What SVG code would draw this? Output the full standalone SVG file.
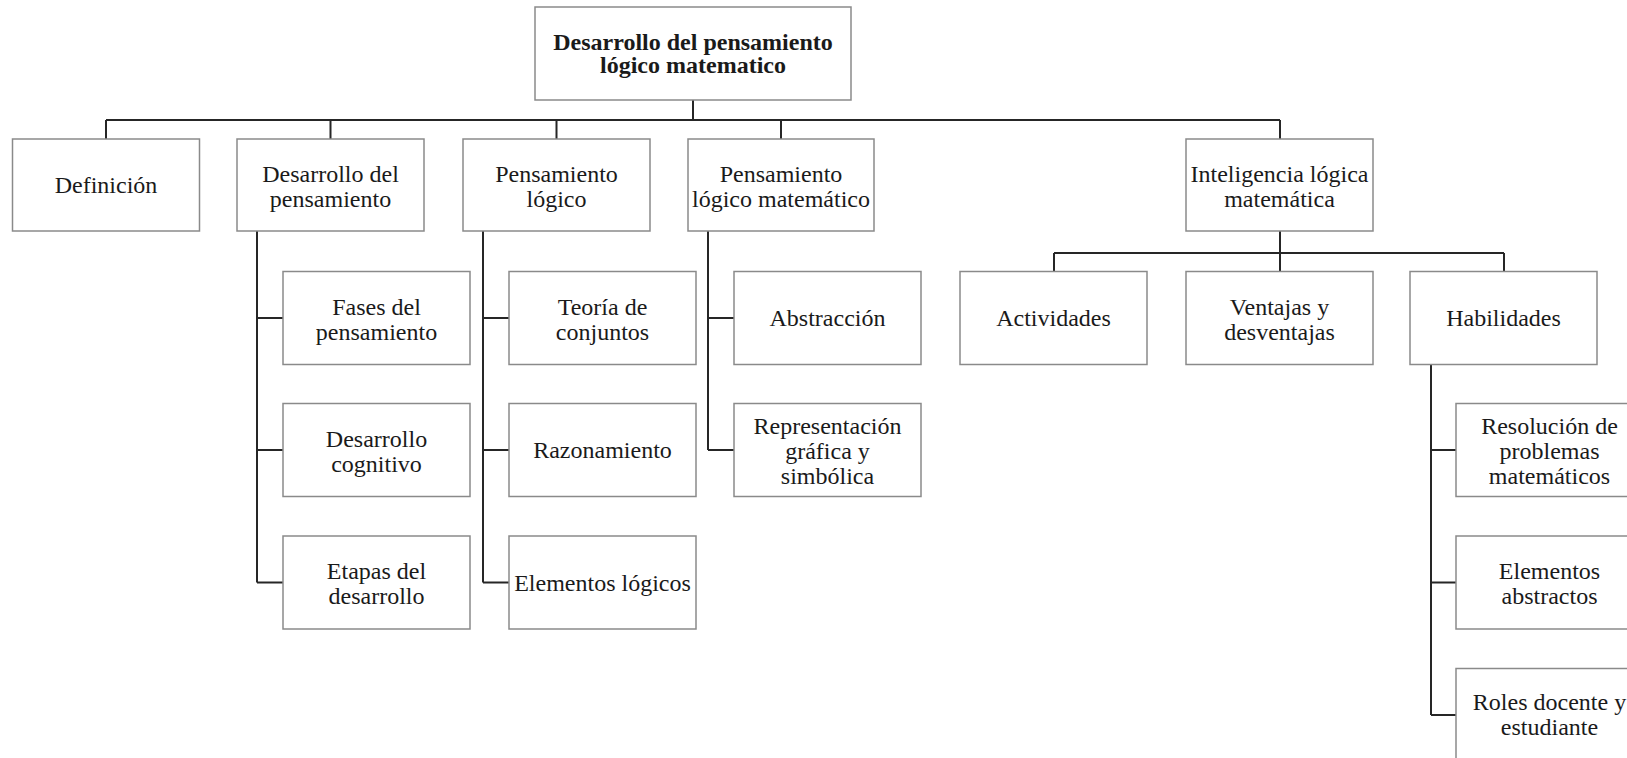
<svg xmlns="http://www.w3.org/2000/svg" width="1627" height="758" viewBox="0 0 1627 758">
<style>
.box{fill:#ffffff;stroke:#8a8a8a;stroke-width:1.5}
.t{font-family:"Liberation Serif","Times New Roman",serif;font-size:24px;fill:#1a1a1a;text-anchor:middle}
.b{font-weight:bold}
.c{fill:none;stroke:#262626;stroke-width:2}
</style>
<rect width="1627" height="758" fill="#ffffff"/>
<g id="connectors">
<path class="c" d="M693,100 V120 M106,120 H1280 M106,120 V139 M330.5,120 V139 M556.5,120 V139 M781,120 V139 M1280,120 V139"/>
<path class="c" d="M257,231 V582.5 M257,318 H283 M257,450 H283 M257,582.5 H283"/>
<path class="c" d="M483,231 V582.5 M483,318 H509 M483,450 H509 M483,582.5 H509"/>
<path class="c" d="M708,231 V450 M708,318 H734 M708,450 H734"/>
<path class="c" d="M1280,231 V253 M1054,253 H1504 M1054,253 V271.5 M1280,253 V271.5 M1504,253 V271.5"/>
<path class="c" d="M1431,364.5 V715 M1431,450 H1456 M1431,582.5 H1456 M1431,715 H1456"/>
</g>
<g id="root"><rect class="box" x="535" y="7" width="316" height="93"/><text class="t b" x="693" y="49.5">Desarrollo del pensamiento</text><text class="t b" x="693" y="73">lógico matematico</text></g>
<g id="definicion"><rect class="box" x="12.5" y="139" width="187" height="92"/><text class="t" x="106" y="193">Definición</text></g>
<g id="desarrollo-pensamiento"><rect class="box" x="237" y="139" width="187" height="92"/><text class="t" x="330.5" y="181.5">Desarrollo del</text><text class="t" x="330.5" y="206.5">pensamiento</text></g>
<g id="pensamiento-logico"><rect class="box" x="463" y="139" width="187" height="92"/><text class="t" x="556.5" y="181.5">Pensamiento</text><text class="t" x="556.5" y="206.5">lógico</text></g>
<g id="pensamiento-logico-matematico"><rect class="box" x="688" y="139" width="186" height="92"/><text class="t" x="781" y="181.5">Pensamiento</text><text class="t" x="781" y="206.5">lógico matemático</text></g>
<g id="inteligencia"><rect class="box" x="1186" y="139" width="187" height="92"/><text class="t" x="1279.5" y="181.5">Inteligencia lógica</text><text class="t" x="1279.5" y="206.5">matemática</text></g>
<g id="fases"><rect class="box" x="283" y="271.5" width="187" height="93"/><text class="t" x="376.5" y="314.5">Fases del</text><text class="t" x="376.5" y="339.5">pensamiento</text></g>
<g id="cognitivo"><rect class="box" x="283" y="403.5" width="187" height="93"/><text class="t" x="376.5" y="446.5">Desarrollo</text><text class="t" x="376.5" y="471.5">cognitivo</text></g>
<g id="etapas"><rect class="box" x="283" y="536" width="187" height="93"/><text class="t" x="376.5" y="579">Etapas del</text><text class="t" x="376.5" y="604">desarrollo</text></g>
<g id="conjuntos"><rect class="box" x="509" y="271.5" width="187" height="93"/><text class="t" x="602.5" y="314.5">Teoría de</text><text class="t" x="602.5" y="339.5">conjuntos</text></g>
<g id="razonamiento"><rect class="box" x="509" y="403.5" width="187" height="93"/><text class="t" x="602.5" y="458">Razonamiento</text></g>
<g id="elementos-logicos"><rect class="box" x="509" y="536" width="187" height="93"/><text class="t" x="602.5" y="590.5">Elementos lógicos</text></g>
<g id="abstraccion"><rect class="box" x="734" y="271.5" width="187" height="93"/><text class="t" x="827.5" y="326">Abstracción</text></g>
<g id="representacion"><rect class="box" x="734" y="403.5" width="187" height="93"/><text class="t" x="827.5" y="433.5">Representación</text><text class="t" x="827.5" y="458.5">gráfica y</text><text class="t" x="827.5" y="483.5">simbólica</text></g>
<g id="actividades"><rect class="box" x="960" y="271.5" width="187" height="93"/><text class="t" x="1053.5" y="326">Actividades</text></g>
<g id="ventajas"><rect class="box" x="1186" y="271.5" width="187" height="93"/><text class="t" x="1279.5" y="314.5">Ventajas y</text><text class="t" x="1279.5" y="339.5">desventajas</text></g>
<g id="habilidades"><rect class="box" x="1410" y="271.5" width="187" height="93"/><text class="t" x="1503.5" y="326">Habilidades</text></g>
<g id="resolucion"><rect class="box" x="1456" y="403.5" width="187" height="93"/><text class="t" x="1549.5" y="433.5">Resolución de</text><text class="t" x="1549.5" y="458.5">problemas</text><text class="t" x="1549.5" y="483.5">matemáticos</text></g>
<g id="elementos-abstractos"><rect class="box" x="1456" y="536" width="187" height="93"/><text class="t" x="1549.5" y="579">Elementos</text><text class="t" x="1549.5" y="604">abstractos</text></g>
<g id="roles"><rect class="box" x="1456" y="668.5" width="187" height="93"/><text class="t" x="1549.5" y="710">Roles docente y</text><text class="t" x="1549.5" y="735">estudiante</text></g>
</svg>
